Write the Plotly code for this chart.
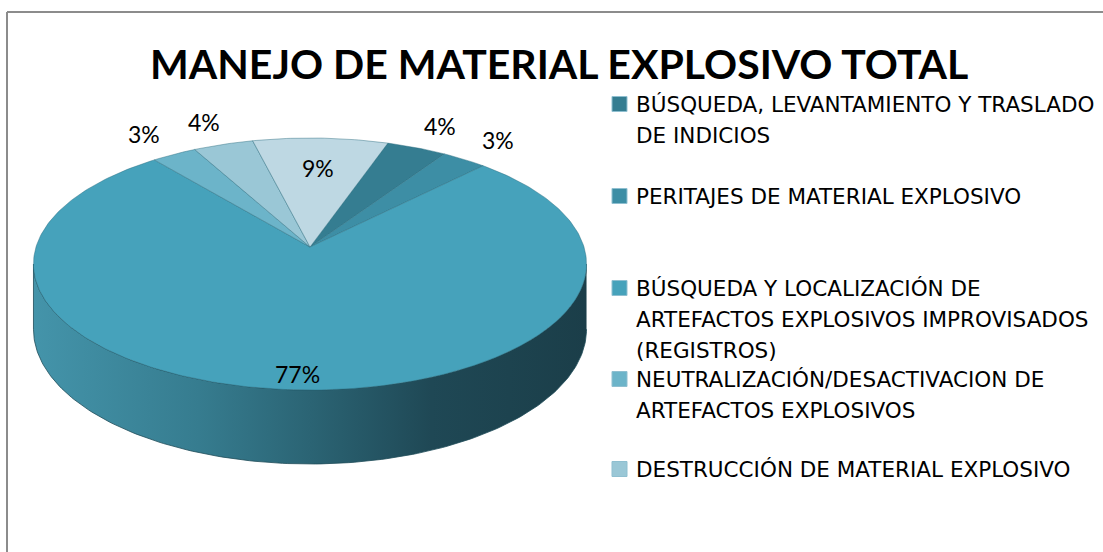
import math
import plotly.graph_objects as go

# ---- data ----
title_text = "MANEJO DE MATERIAL EXPLOSIVO TOTAL"
categories = [
    "BÚSQUEDA, LEVANTAMIENTO Y TRASLADO DE INDICIOS",
    "PERITAJES DE MATERIAL EXPLOSIVO",
    "BÚSQUEDA Y LOCALIZACIÓN DE ARTEFACTOS EXPLOSIVOS IMPROVISADOS (REGISTROS)",
    "NEUTRALIZACIÓN/DESACTIVACION DE ARTEFACTOS EXPLOSIVOS",
    "DESTRUCCIÓN DE MATERIAL EXPLOSIVO",
    "",  # sixth slice: its legend entry is cut off in the original
]
values = [4, 3, 77, 3, 4, 9]
colors = ["#357d91", "#3d8ea5", "#46a2bb", "#6cb4c9", "#9ac7d6", "#bed8e3"]
legend_lines = [
    ["BÚSQUEDA, LEVANTAMIENTO Y TRASLADO", "DE INDICIOS"],
    ["PERITAJES DE MATERIAL EXPLOSIVO"],
    ["BÚSQUEDA Y LOCALIZACIÓN DE", "ARTEFACTOS EXPLOSIVOS IMPROVISADOS", "(REGISTROS)"],
    ["NEUTRALIZACIÓN/DESACTIVACION DE", "ARTEFACTOS EXPLOSIVOS"],
    ["DESTRUCCIÓN DE MATERIAL EXPLOSIVO"],
]
legend_y = [[104, 135], [196], [288, 319, 350], [379, 410], [469]]

# ---- geometry (style) ----
W, Hgt = 1103, 552
cx, cy = 310, 247
A, B = 274, 123.7
k = 0.135
H = 64
rotation = 18.7
FONT = "Lato"
LEG_FONT = "DejaVu Sans"


def proj(theta, r=1.0, z=0.0):
    t = math.radians(theta)
    u, v = r * math.sin(t), r * math.cos(t)
    d = 1 + k * v
    return cx + A * u / d, cy - B * v / d + z * H / d


def arc(t0, t1, r=1.0, z=0.0, n=None):
    n = n or max(2, int(abs(t1 - t0) / 1.0) + 1)
    pts = [proj(t0 + (t1 - t0) * i / (n - 1), r, z) for i in range(n)]
    return [p[0] for p in pts], [p[1] for p in pts]


total = sum(values)
starts, ends = [], []
a = rotation
for v in values:
    starts.append(a)
    a += 360 * v / total
    ends.append(a)

fig = go.Figure()

# side wall (front visible part, belongs to the big slice)
te = math.degrees(math.acos(-k))
xs_top, ys_top = arc(te, 360 - te)
xs_bot, ys_bot = arc(360 - te, te, z=1)
fig.add_trace(go.Scatter(
    x=xs_top + xs_bot, y=ys_top + ys_bot, mode="lines", fill="toself",
    line=dict(color="#1f4c59", width=0.8),
    fillgradient=dict(type="horizontal", colorscale=[
        [0, "#4494aa"], [0.3, "#367c8f"], [0.5, "#2b6474"], [0.72, "#1f4855"], [1, "#1b3e49"]]),
    hoverinfo="skip", showlegend=False))

# top surfaces
for i, v in enumerate(values):
    xs, ys = arc(starts[i], ends[i])
    fig.add_trace(go.Scatter(
        x=[cx] + xs + [cx], y=[cy] + ys + [cy], mode="lines", fill="toself",
        fillcolor=colors[i], line=dict(color="rgba(40,105,125,0.55)", width=0.8),
        name=categories[i], hoverinfo="skip", showlegend=False))

# percentage labels
annotations = []
for i, v in enumerate(values):
    mid = (starts[i] + ends[i]) / 2
    if v >= 50:
        r = 0.9
    elif v >= 6:
        r = 0.7
    else:
        r = 1.25
    x, y = proj(mid, r)
    annotations.append(dict(x=x, y=y, xref="x", yref="y", text=f"{v}%", showarrow=False,
                            font=dict(family=FONT, size=23, color="#000000")))

# legend (text + swatches)
shapes = []
for i, lines in enumerate(legend_lines):
    for j, line in enumerate(lines):
        annotations.append(dict(x=634, y=legend_y[i][j], xref="x", yref="y", text=line,
                                showarrow=False, xanchor="left", yanchor="middle",
                                font=dict(family=LEG_FONT, size=21.5, color="#000000")))
    yc = legend_y[i][0]
    shapes.append(dict(type="rect", xref="x", yref="y", x0=612, x1=627, y0=yc - 7.5, y1=yc + 7.5,
                       fillcolor=colors[i], line=dict(color="#8fbfd0", width=1)))

# title
annotations.append(dict(x=559, y=63, xref="x", yref="y", text=f"<b>{title_text}</b>", showarrow=False,
                        font=dict(family=FONT, size=41, color="#000000")))

# chart frame (left and top edges visible)
shapes.append(dict(type="line", xref="x", yref="y", x0=7, x1=7, y0=12, y1=560,
                   line=dict(color="#8c8c8c", width=2)))
shapes.append(dict(type="line", xref="x", yref="y", x0=7, x1=1110, y0=12, y1=12,
                   line=dict(color="#8c8c8c", width=2)))

fig.update_layout(
    width=W, height=Hgt, autosize=False,
    margin=dict(l=0, r=0, t=0, b=0),
    paper_bgcolor="white", plot_bgcolor="white",
    xaxis=dict(range=[0, W], visible=False, fixedrange=True),
    yaxis=dict(range=[Hgt, 0], visible=False, fixedrange=True),
    annotations=annotations, shapes=shapes, showlegend=False,
)

fig.write_html("out.html", config={"displayModeBar": False},
               post_script="document.body.style.margin='0';document.body.style.overflow='hidden';")
